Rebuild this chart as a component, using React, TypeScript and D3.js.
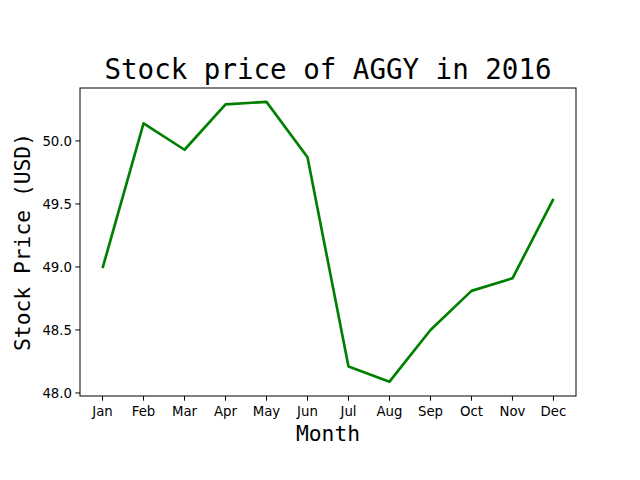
import * as d3 from "d3";

const months = ["Jan", "Feb", "Mar", "Apr", "May", "Jun", "Jul", "Aug", "Sep", "Oct", "Nov", "Dec"];
const prices = [48.99, 50.14, 49.93, 50.29, 50.31, 49.87, 48.21, 48.09, 48.5, 48.81, 48.91, 49.54];
const yTicks = [48.0, 48.5, 49.0, 49.5, 50.0];

const W = 640, H = 480;
const L = 80, R = 576, T = 88, B = 396;

export default function App() {
  const x = d3.scaleLinear().domain([-0.55, 11.55]).range([L, R]);
  const y = d3.scaleLinear().domain([47.976, 50.42]).range([B, T]);
  const line = d3.line<number>().x((_, i) => x(i)).y((d) => y(d));
  return (
    <svg width={W} height={H} style={{ position: "absolute", left: 0, top: 0, background: "#fff" }}>
      <text x={(L + R) / 2} y={79} textAnchor="middle" fontFamily="DejaVu Sans Mono" fontSize={27.5}>
        Stock price of AGGY in 2016
      </text>
      <path d={line(prices) ?? ""} fill="none" stroke="#008000" strokeWidth={2.67} strokeLinejoin="round" />
      <rect x={L} y={T} width={R - L} height={B - T} fill="none" stroke="#000" strokeWidth={1} />
      {months.map((m, i) => (
        <g key={m}>
          <line x1={x(i)} x2={x(i)} y1={B} y2={B + 4.7} stroke="#000" />
          <text x={x(i)} y={B + 20} textAnchor="middle" fontFamily="DejaVu Sans" fontSize={13.3}>{m}</text>
        </g>
      ))}
      {yTicks.map((t) => (
        <g key={t}>
          <line x1={L - 4.7} x2={L} y1={y(t)} y2={y(t)} stroke="#000" />
          <text x={L - 8} y={y(t) + 4.8} textAnchor="end" fontFamily="DejaVu Sans" fontSize={13.3}>{t.toFixed(1)}</text>
        </g>
      ))}
      <text x={(L + R) / 2} y={441} textAnchor="middle" fontFamily="DejaVu Sans Mono" fontSize={21.3}>Month</text>
      <text transform={`translate(30,${(T + B) / 2}) rotate(-90)`} textAnchor="middle" fontFamily="DejaVu Sans Mono" fontSize={21.3}>
        Stock Price (USD)
      </text>
    </svg>
  );
}
